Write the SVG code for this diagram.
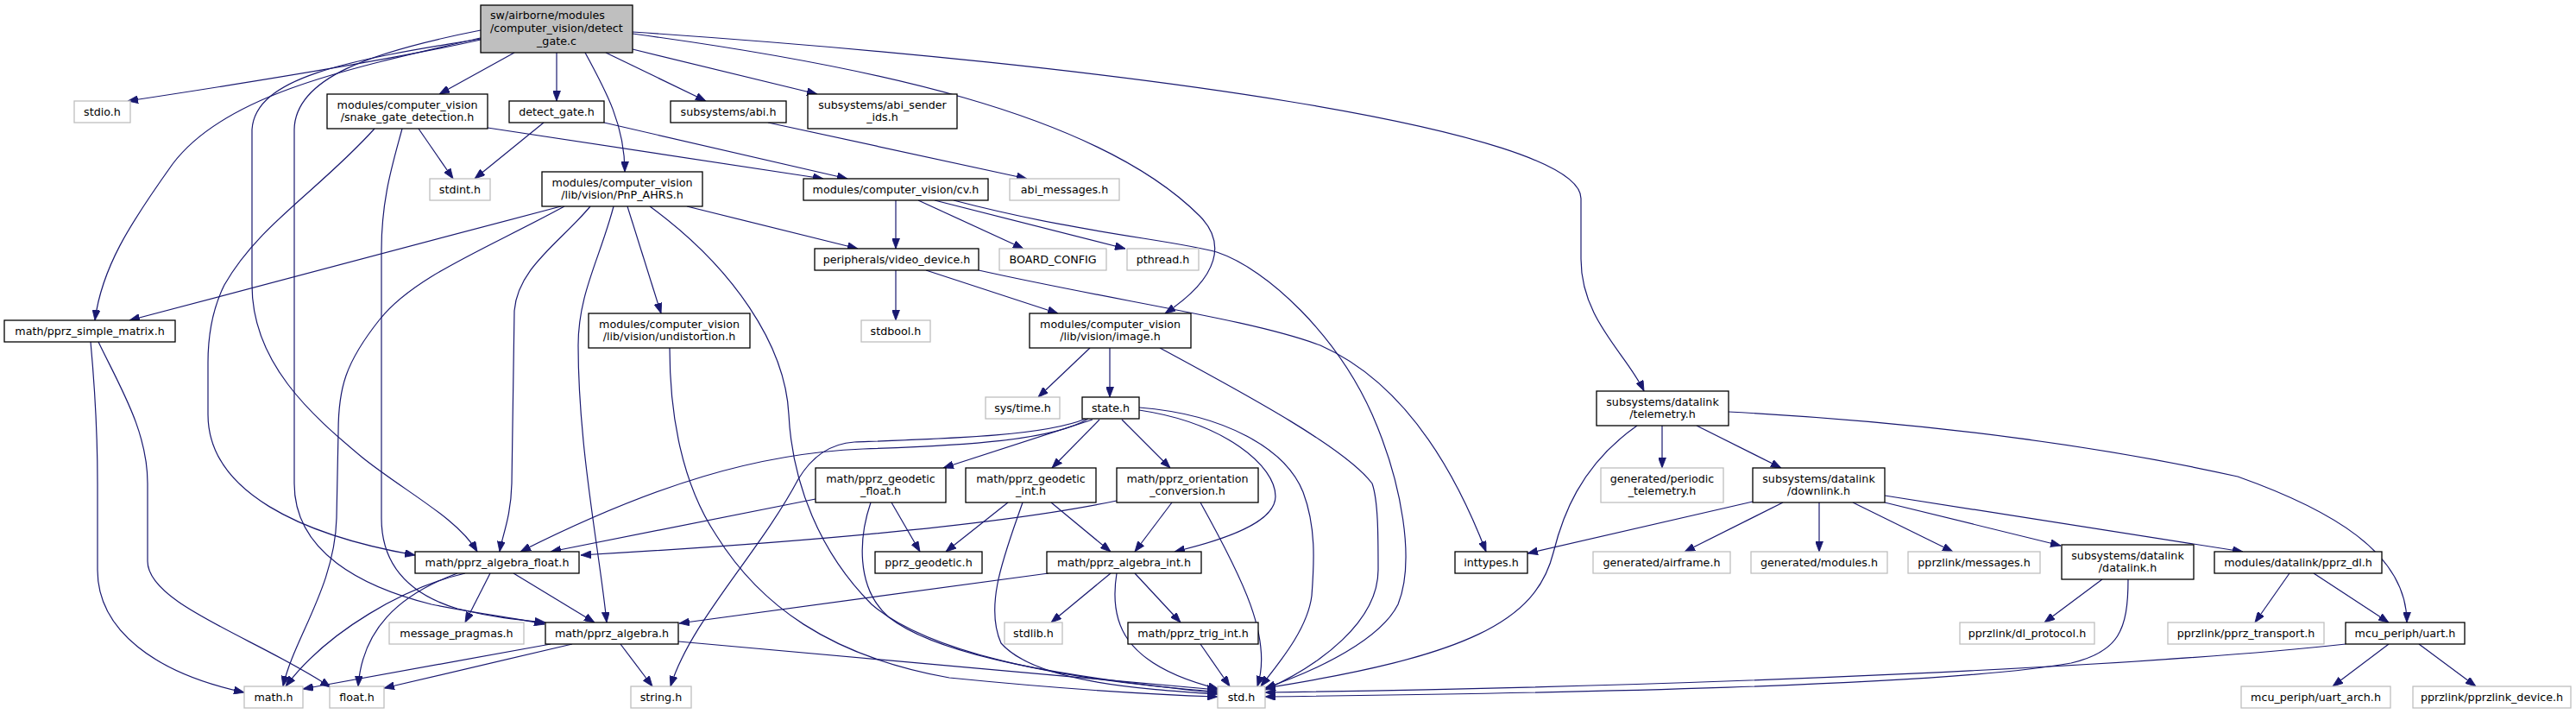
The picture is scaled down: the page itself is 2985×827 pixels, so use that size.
<svg xmlns="http://www.w3.org/2000/svg" width="2985" height="827" viewBox="0 0 2985 827">
<defs>
<marker id="a" markerWidth="12" markerHeight="9" refX="12" refY="4.5" orient="auto" markerUnits="userSpaceOnUse"><path d="M0,0 L12,4.5 L0,9 z" fill="#191970" stroke="#191970" stroke-width="0.8"/></marker>
<style>
rect{fill:#fff;stroke:#000;stroke-width:1.3}
.g rect{stroke:#bfbfbf}
text{font-family:"DejaVu Sans","Liberation Sans",sans-serif;font-size:12.7px;text-anchor:middle;fill:#000}
.e path{fill:none;stroke:#191970;stroke-width:1.2;marker-end:url(#a)}
</style>
</defs>
<rect x="0" y="0" width="2985" height="827" style="fill:#fff;stroke:none"/>
<g class="e" id="edges">
<path d="M557,46 C450,70 260,100 148,117"/>
<path d="M596,61 L509,109"/>
<path d="M645,61 L645,117"/>
<path d="M678,61 C702,105 724,145 724,199"/>
<path d="M702,61 L818,117"/>
<path d="M733,57 L947,109"/>
<path d="M733,39 C1000,75 1270,130 1390,250 C1420,280 1415,320 1350,363"/>
<path d="M733,37 C1300,75 1832,150 1832,230 L1832,300 C1832,370 1885,410 1905,453"/>
<path d="M557,44 C400,80 260,110 200,190 C150,260 118,310 110,371"/>
<path d="M557,45 C400,70 296,90 292,150 L292,330 C292,420 360,480 420,530 C470,570 530,600 553,639"/>
<path d="M557,35 C430,60 342,90 341,150 L341,560 C341,640 420,680 500,700 C560,712 600,716 631,723"/>
<path d="M485,149 L525,207"/>
<path d="M565,148 L954,207"/>
<path d="M434,149 C370,220 300,260 260,330 C245,360 241,390 241,420 L241,480 C241,570 350,620 481,643"/>
<path d="M466,149 C455,190 442,230 442,290 L442,600 C442,660 480,690 530,705 C570,715 600,718 632,721"/>
<path d="M630,142 L550,207"/>
<path d="M700,142 L982,207"/>
<path d="M890,142 L1190,207"/>
<path d="M650,239 L150,371"/>
<path d="M654,239 C560,290 480,320 440,370 C400,420 392,450 392,500 L390,600 C388,680 340,740 328,795"/>
<path d="M684,239 C650,280 600,310 596,360 L593,560 C592,600 582,620 579,639"/>
<path d="M711,239 C695,300 670,340 670,400 C670,520 695,640 703,721"/>
<path d="M727,239 L766,363"/>
<path d="M753,239 C850,310 910,400 914,480 C918,560 950,640 1010,700 C1080,760 1250,790 1411,801"/>
<path d="M796,239 L994,288"/>
<path d="M776,403 C776,480 790,560 830,620 C880,700 960,760 1100,785 C1250,800 1350,805 1411,807"/>
<path d="M1038,232 L1038,288"/>
<path d="M1064,232 L1186,288"/>
<path d="M1083,232 L1304,288"/>
<path d="M1105,232 C1250,270 1360,278 1410,292 C1470,312 1550,390 1590,480 C1625,560 1640,650 1620,700 C1600,740 1530,775 1466,797"/>
<path d="M1038,313 L1038,371"/>
<path d="M1073,313 L1226,363"/>
<path d="M1134,313 C1300,350 1450,370 1530,400 C1620,440 1680,530 1722,639"/>
<path d="M1263,403 L1203,460"/>
<path d="M1286,403 L1286,460"/>
<path d="M1344,403 C1450,460 1560,520 1590,560 C1597,580 1597,620 1597,660 C1597,720 1530,770 1466,799"/>
<path d="M1261,485 C1220,510 1120,516 1000,520 C880,525 760,560 603,639"/>
<path d="M1258,485 C1210,505 1100,508 990,512 C960,514 940,530 925,555 C880,640 800,720 777,795"/>
<path d="M1266,486 L1093,542"/>
<path d="M1274,486 L1219,542"/>
<path d="M1300,486 L1356,542"/>
<path d="M1320,475 C1420,490 1478,540 1478,575 C1478,605 1420,625 1361,639"/>
<path d="M1320,472 C1420,480 1490,520 1510,570 C1525,610 1523,650 1520,690 C1515,730 1480,770 1461,795"/>
<path d="M945,578 L638,639"/>
<path d="M1033,582 L1066,639"/>
<path d="M1009,582 C996,620 990,680 1030,715 C1100,770 1300,790 1411,803"/>
<path d="M1168,582 L1096,639"/>
<path d="M1218,582 L1287,639"/>
<path d="M1185,582 C1165,640 1140,700 1160,745 C1200,790 1320,798 1411,804"/>
<path d="M1294,580 C1150,610 900,630 673,643"/>
<path d="M1358,582 L1315,639"/>
<path d="M1391,582 C1440,670 1475,740 1457,795"/>
<path d="M1215,664 L787,722"/>
<path d="M1287,664 L1218,721"/>
<path d="M1315,664 L1368,721"/>
<path d="M1294,664 C1285,720 1300,770 1412,798"/>
<path d="M1391,746 L1425,795"/>
<path d="M638,746 L351,798"/>
<path d="M663,746 L445,797"/>
<path d="M719,746 L756,795"/>
<path d="M786,743 L1411,799"/>
<path d="M568,664 L539,721"/>
<path d="M595,664 L689,721"/>
<path d="M539,664 C470,680 380,730 331,795"/>
<path d="M530,664 C460,690 420,730 415,795"/>
<path d="M105,396 C110,450 113,500 113,560 L113,660 C113,730 180,780 283,802"/>
<path d="M114,396 C140,450 171,500 171,560 L171,650 C171,700 300,740 383,796"/>
<path d="M1897,493 C1830,540 1810,600 1800,640 C1780,720 1700,760 1466,797"/>
<path d="M1926,493 L1926,542"/>
<path d="M1966,493 L2064,542"/>
<path d="M2003,477 C2250,490 2450,520 2593,552 C2700,590 2789,640 2789,721"/>
<path d="M2031,581 L1770,641"/>
<path d="M2066,582 L1952,639"/>
<path d="M2108,582 L2108,639"/>
<path d="M2147,582 L2263,639"/>
<path d="M2184,582 L2388,632"/>
<path d="M2184,574 L2599,639"/>
<path d="M2436,671 L2369,721"/>
<path d="M2466,671 C2466,730 2455,755 2400,768 C2250,795 1800,803 1466,807"/>
<path d="M2653,664 L2613,721"/>
<path d="M2681,664 L2768,721"/>
<path d="M2718,746 C2500,770 2000,795 1466,802"/>
<path d="M2768,746 L2703,795"/>
<path d="M2803,746 L2869,795"/>
</g>
<g id="n_main"><rect x="557" y="6" width="176" height="55" style="fill:#bfbfbf"/><text x="568" y="22" style="text-anchor:start">sw/airborne/modules</text><text x="568" y="37" style="text-anchor:start">/computer_vision/detect</text><text x="645" y="51.5">_gate.c</text></g>
<g id="n_stdio" class="g"><rect x="86" y="117" width="65" height="25"/><text x="118.5" y="134">stdio.h</text></g>
<g id="n_snake"><rect x="379" y="109" width="186" height="40"/><text x="472" y="125.5">modules/computer_vision</text><text x="472" y="140">/snake_gate_detection.h</text></g>
<g id="n_detect_gate"><rect x="590" y="117" width="110" height="25"/><text x="645" y="134">detect_gate.h</text></g>
<g id="n_abi"><rect x="777" y="117" width="134" height="25"/><text x="844" y="134">subsystems/abi.h</text></g>
<g id="n_abi_sender"><rect x="936" y="109" width="173" height="40"/><text x="1022.5" y="125.5">subsystems/abi_sender</text><text x="1022.5" y="140">_ids.h</text></g>
<g id="n_stdint" class="g"><rect x="498" y="207" width="70" height="25"/><text x="533" y="224">stdint.h</text></g>
<g id="n_pnp"><rect x="628" y="199" width="186" height="40"/><text x="721" y="215.5">modules/computer_vision</text><text x="721" y="230">/lib/vision/PnP_AHRS.h</text></g>
<g id="n_cv"><rect x="931" y="207" width="214" height="25"/><text x="1038" y="224">modules/computer_vision/cv.h</text></g>
<g id="n_abi_messages" class="g"><rect x="1170" y="207" width="127" height="25"/><text x="1233.5" y="224">abi_messages.h</text></g>
<g id="n_video_device"><rect x="944" y="288" width="190" height="25"/><text x="1039" y="305">peripherals/video_device.h</text></g>
<g id="n_board_config" class="g"><rect x="1158" y="288" width="124" height="25"/><text x="1220" y="305">BOARD_CONFIG</text></g>
<g id="n_pthread" class="g"><rect x="1306" y="288" width="83" height="25"/><text x="1347.5" y="305">pthread.h</text></g>
<g id="n_simple_matrix"><rect x="5" y="371" width="198" height="25"/><text x="104" y="388">math/pprz_simple_matrix.h</text></g>
<g id="n_undistortion"><rect x="682" y="363" width="187" height="40"/><text x="775.5" y="379.5">modules/computer_vision</text><text x="775.5" y="394">/lib/vision/undistortion.h</text></g>
<g id="n_stdbool" class="g"><rect x="998" y="371" width="80" height="25"/><text x="1038" y="388">stdbool.h</text></g>
<g id="n_image"><rect x="1193" y="363" width="187" height="40"/><text x="1286.5" y="379.5">modules/computer_vision</text><text x="1286.5" y="394">/lib/vision/image.h</text></g>
<g id="n_systime" class="g"><rect x="1142" y="460" width="86" height="25"/><text x="1185" y="477">sys/time.h</text></g>
<g id="n_state"><rect x="1254" y="460" width="66" height="25"/><text x="1287" y="477">state.h</text></g>
<g id="n_telemetry"><rect x="1850" y="453" width="153" height="40"/><text x="1926.5" y="469.5">subsystems/datalink</text><text x="1926.5" y="484">/telemetry.h</text></g>
<g id="n_geodetic_float"><rect x="945" y="542" width="151" height="40"/><text x="1020.5" y="558.5">math/pprz_geodetic</text><text x="1020.5" y="573">_float.h</text></g>
<g id="n_geodetic_int"><rect x="1119" y="542" width="151" height="40"/><text x="1194.5" y="558.5">math/pprz_geodetic</text><text x="1194.5" y="573">_int.h</text></g>
<g id="n_orientation"><rect x="1294" y="542" width="164" height="40"/><text x="1376" y="558.5">math/pprz_orientation</text><text x="1376" y="573">_conversion.h</text></g>
<g id="n_periodic" class="g"><rect x="1855" y="542" width="142" height="40"/><text x="1926" y="558.5">generated/periodic</text><text x="1926" y="573">_telemetry.h</text></g>
<g id="n_downlink"><rect x="2031" y="542" width="153" height="40"/><text x="2107.5" y="558.5">subsystems/datalink</text><text x="2107.5" y="573">/downlink.h</text></g>
<g id="n_algebra_float"><rect x="481" y="639" width="190" height="25"/><text x="576" y="656">math/pprz_algebra_float.h</text></g>
<g id="n_pprz_geodetic"><rect x="1014" y="639" width="124" height="25"/><text x="1076" y="656">pprz_geodetic.h</text></g>
<g id="n_algebra_int"><rect x="1213" y="639" width="179" height="25"/><text x="1302.5" y="656">math/pprz_algebra_int.h</text></g>
<g id="n_inttypes"><rect x="1686" y="639" width="84" height="25"/><text x="1728" y="656">inttypes.h</text></g>
<g id="n_airframe" class="g"><rect x="1846" y="639" width="159" height="25"/><text x="1925.5" y="656">generated/airframe.h</text></g>
<g id="n_modules" class="g"><rect x="2029" y="639" width="158" height="25"/><text x="2108" y="656">generated/modules.h</text></g>
<g id="n_messages" class="g"><rect x="2211" y="639" width="153" height="25"/><text x="2287.5" y="656">pprzlink/messages.h</text></g>
<g id="n_datalink"><rect x="2389" y="631" width="153" height="40"/><text x="2465.5" y="647.5">subsystems/datalink</text><text x="2465.5" y="662">/datalink.h</text></g>
<g id="n_pprz_dl"><rect x="2566" y="639" width="194" height="25"/><text x="2663" y="656">modules/datalink/pprz_dl.h</text></g>
<g id="n_message_pragmas" class="g"><rect x="451" y="721" width="156" height="25"/><text x="529" y="738">message_pragmas.h</text></g>
<g id="n_pprz_algebra"><rect x="632" y="721" width="154" height="25"/><text x="709" y="738">math/pprz_algebra.h</text></g>
<g id="n_stdlib" class="g"><rect x="1164" y="721" width="67" height="25"/><text x="1197.5" y="738">stdlib.h</text></g>
<g id="n_trig_int"><rect x="1307" y="721" width="151" height="25"/><text x="1382.5" y="738">math/pprz_trig_int.h</text></g>
<g id="n_dl_protocol" class="g"><rect x="2271" y="721" width="156" height="25"/><text x="2349" y="738">pprzlink/dl_protocol.h</text></g>
<g id="n_pprz_transport" class="g"><rect x="2512" y="721" width="181" height="25"/><text x="2602.5" y="738">pprzlink/pprz_transport.h</text></g>
<g id="n_uart"><rect x="2718" y="721" width="138" height="25"/><text x="2787" y="738">mcu_periph/uart.h</text></g>
<g id="n_math" class="g"><rect x="283" y="795" width="68" height="25"/><text x="317" y="812">math.h</text></g>
<g id="n_float" class="g"><rect x="382" y="795" width="63" height="25"/><text x="413.5" y="812">float.h</text></g>
<g id="n_string" class="g"><rect x="731" y="795" width="70" height="25"/><text x="766" y="812">string.h</text></g>
<g id="n_std" class="g"><rect x="1411" y="795" width="55" height="25"/><text x="1438.5" y="812">std.h</text></g>
<g id="n_uart_arch" class="g"><rect x="2597" y="795" width="173" height="25"/><text x="2683.5" y="812">mcu_periph/uart_arch.h</text></g>
<g id="n_pprzlink_device" class="g"><rect x="2796" y="795" width="183" height="25"/><text x="2887.5" y="812">pprzlink/pprzlink_device.h</text></g>
</svg>
